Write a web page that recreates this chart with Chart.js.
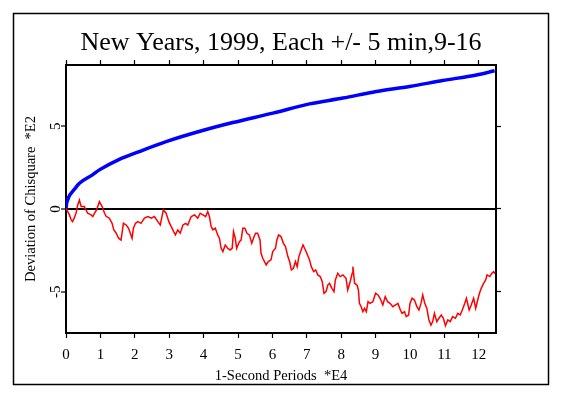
<!DOCTYPE html>
<html>
<head>
<meta charset="utf-8">
<script src="https://cdn.jsdelivr.net/npm/chart.js@4.4.1/dist/chart.umd.min.js"></script>
<style>
  html, body { margin: 0; padding: 0; background: #ffffff; }
  #wrap { width: 563px; height: 397px; position: relative; }
</style>
</head>
<body>
<div id="wrap"><canvas id="chart" width="563" height="397"></canvas></div>
<script>
// 1-second periods (*E4) and deviation of chisquare (*E2)
const blueX = [0, 0.02, 0.05, 0.1, 0.24, 0.39, 0.77, 0.97, 1.55, 2.13, 2.91, 3.97, 4.85, 6.01, 7.08, 8.05, 9.02, 9.99, 10.95, 11.93, 12.46];
const blueY = [0, 0.35, 0.55, 0.8, 1.18, 1.55, 2.06, 2.36, 3.0, 3.47, 4.07, 4.74, 5.22, 5.79, 6.35, 6.7, 7.1, 7.4, 7.76, 8.1, 8.35];

const redX = [
    0, 0.05, 0.1, 0.15, 0.19, 0.24, 0.29, 0.34, 0.39, 0.44, 0.53, 0.58, 0.63, 0.73, 0.78, 0.83, 0.89, 0.97,
    1.05, 1.12, 1.17, 1.26, 1.34, 1.39, 1.46, 1.53, 1.6, 1.67, 1.75, 1.82, 1.87, 1.92, 1.96,
    2.02, 2.09, 2.18, 2.28, 2.38, 2.48, 2.57, 2.67, 2.74, 2.8, 2.83, 2.91, 2.99,
    3.06, 3.13, 3.18, 3.25, 3.32, 3.4, 3.48, 3.54, 3.64, 3.74, 3.83, 3.9, 3.98,
    4.06, 4.12, 4.17, 4.22, 4.27, 4.34, 4.41, 4.46, 4.51, 4.56, 4.63, 4.7, 4.77, 4.83, 4.87, 4.92, 4.96,
    5.04, 5.09, 5.14, 5.2, 5.26, 5.33, 5.4, 5.45, 5.51, 5.57, 5.64, 5.67, 5.72, 5.77, 5.82, 5.88, 5.96,
    6.01, 6.09, 6.13, 6.18, 6.25, 6.32, 6.38, 6.45, 6.5, 6.55, 6.61, 6.67, 6.72, 6.77, 6.82, 6.89, 6.96,
    7.02, 7.08, 7.13, 7.2, 7.26, 7.32, 7.39, 7.45, 7.5, 7.56, 7.61, 7.66, 7.73, 7.79, 7.83, 7.9, 7.97,
    8.05, 8.14, 8.19, 8.26, 8.32, 8.34, 8.39, 8.46, 8.5, 8.53, 8.58, 8.63, 8.68, 8.73, 8.78, 8.84, 8.92,
    9.0, 9.07, 9.13, 9.21, 9.28, 9.35, 9.42, 9.5, 9.57, 9.65, 9.72, 9.77, 9.84, 9.89, 9.96,
    10.0, 10.06, 10.13, 10.2, 10.26, 10.32, 10.37, 10.43, 10.49, 10.55, 10.61, 10.66, 10.71, 10.78, 10.84, 10.91, 10.97,
    11.03, 11.1, 11.17, 11.24, 11.32, 11.39, 11.46, 11.52, 11.59, 11.64, 11.72, 11.78, 11.85, 11.91, 11.98,
    12.02, 12.07, 12.14, 12.2, 12.24, 12.32, 12.38, 12.43, 12.47
];
const redY = [
    0.04, -0.16, -0.36, -0.66, -0.77, -0.56, -0.26, 0.24, 0.54, 0.14, 0.14, -0.06, -0.26, -0.36, -0.46, -0.26, -0.06, 0.44,
    0.14, -0.26, -0.46, -0.56, -0.87, -1.27, -1.47, -1.77, -1.88, -0.87, -0.97, -1.17, -1.47, -1.77, -1.17,
    -0.87, -0.77, -0.87, -0.56, -0.46, -0.56, -0.46, -0.77, -0.97, -0.36, -0.06, -0.26, -0.77,
    -1.07, -1.37, -1.57, -1.27, -1.47, -0.97, -0.87, -0.97, -0.46, -0.36, -0.56, -0.26, -0.36,
    -0.46, -0.16, -0.46, -1.07, -1.27, -1.17, -1.57, -1.77, -2.38, -2.58, -2.18, -2.38, -2.48, -2.38, -1.37, -1.77, -2.38,
    -1.98, -1.88, -1.17, -1.17, -1.47, -1.57, -2.08, -1.77, -1.47, -1.47, -1.88, -2.68, -2.98, -3.18, -3.39, -3.18, -3.08,
    -2.58, -2.38, -1.88, -1.57, -1.67, -2.08, -2.28, -2.88, -3.18, -3.69, -3.59, -3.18, -3.49, -2.88, -2.58, -2.18, -2.48,
    -2.78, -3.08, -3.49, -3.79, -3.69, -3.99, -4.09, -4.4, -5.1, -5.0, -4.6, -4.5, -4.8, -5.0, -4.29, -3.89, -4.09,
    -3.99, -4.19, -4.9, -4.4, -3.89, -3.49, -4.5, -4.6, -4.9, -5.71, -5.91, -6.21, -6.01, -6.21, -5.61, -5.71, -5.61,
    -5.1, -5.2, -5.4, -5.81, -5.3, -5.61, -5.71, -5.91, -5.81, -5.71, -6.11, -6.31, -6.21, -6.51, -6.41,
    -5.71, -5.4, -5.51, -5.91, -6.11, -5.71, -5.2, -5.71, -6.01, -6.71, -7.02, -6.81, -6.31, -6.81, -6.61, -6.41, -6.61,
    -7.06, -6.71, -6.81, -6.51, -6.61, -6.31, -6.41, -6.11, -5.71, -5.4, -6.11, -5.81, -5.4, -6.01, -5.4,
    -5.1, -4.8, -4.5, -4.29, -3.99, -4.09, -3.89, -3.79, -3.93
];

const xTicks = [0, 1, 2, 3, 4, 5, 6, 7, 8, 9, 10, 11, 12];
const yTicks = [-5, 0, 5];

const titleText = 'New Years, 1999, Each +/- 5 min,9-16';
const xTitle = '1-Second Periods  *E4';
const yTitle = 'Deviation of Chisquare  *E2';

const serif = "'Liberation Serif', 'Times New Roman', serif";

function toPoints(xs, ys) {
    return xs.map((x, i) => ({ x: x, y: ys[i] }));
}

// Outer frame around the whole picture
const framePlugin = {
    id: 'frame',
    afterDraw(chart) {
        const c = chart.ctx;
        c.save();
        c.strokeStyle = '#000';
        c.lineWidth = 1.5;
        c.strokeRect(13.5, 13.5, 535, 371);
        c.restore();
    }
};

const setTicks = (values) => (scale) => {
    scale.ticks = values.map(v => ({ value: v }));
};

const edgeAxis = (position, size, extra) => Object.assign({
    type: 'linear',
    position: position,
    border: { display: true, color: '#000', width: 2 },
    grid: { drawOnChartArea: false, color: '#000', tickColor: '#000', tickLength: 5, tickWidth: 1.2 },
    afterFit: (s) => {
        if (s.isHorizontal()) s.height = size; else s.width = size;
    }
}, extra);

new Chart(document.getElementById('chart'), {
    type: 'line',
    data: {
        datasets: [
            {
                data: toPoints(redX, redY),
                borderColor: '#ff0000',
                borderWidth: 1.5,
                pointRadius: 0,
                tension: 0,
                xAxisID: 'x',
                yAxisID: 'y'
            },
            {
                data: toPoints(blueX, blueY),
                borderColor: '#0000ff',
                borderWidth: 3.5,
                pointRadius: 0,
                cubicInterpolationMode: 'monotone',
                xAxisID: 'x',
                yAxisID: 'y'
            }
        ]
    },
    options: {
        responsive: false,
        animation: false,
        layout: { padding: 0 },
        plugins: {
            legend: { display: false },
            tooltip: { enabled: false }
        },
        scales: {
            x: edgeAxis('bottom', 64, {
                min: 0, max: 12.5,
                afterBuildTicks: setTicks(xTicks),
                ticks: { color: '#000', padding: 8, maxRotation: 0, font: { family: serif, size: 15 } },
                title: { display: true, text: xTitle, color: '#000', padding: { top: 0, bottom: 12 }, font: { family: serif, size: 14.5 } }
            }),
            xTop: edgeAxis('top', 65, {
                min: 0, max: 12.5,
                afterBuildTicks: setTicks(xTicks),
                ticks: { display: false },
                title: { display: true, text: titleText, color: '#000', padding: { top: 28, bottom: 0 }, font: { family: serif, size: 26 } }
            }),
            y: edgeAxis('left', 66, {
                min: -7.5, max: 8.7,
                afterBuildTicks: setTicks(yTicks),
                grid: {
                    drawOnChartArea: true,
                    color: (ctx) => ctx.tick && ctx.tick.value === 0 ? '#000' : 'rgba(0,0,0,0)',
                    lineWidth: 2,
                    tickColor: '#000', tickLength: 5, tickWidth: 1.2
                },
                ticks: { color: '#000', padding: -1, minRotation: 90, maxRotation: 90, crossAlign: 'center', font: { family: serif, size: 15 } },
                title: { display: true, text: yTitle, color: '#000', padding: { top: 22, bottom: 0 }, font: { family: serif, size: 14.5 } }
            }),
            yRight: edgeAxis('right', 67, {
                min: -7.5, max: 8.7,
                afterBuildTicks: setTicks(yTicks),
                ticks: { display: false }
            })
        }
    },
    plugins: [framePlugin]
});
</script>
</body>
</html>
